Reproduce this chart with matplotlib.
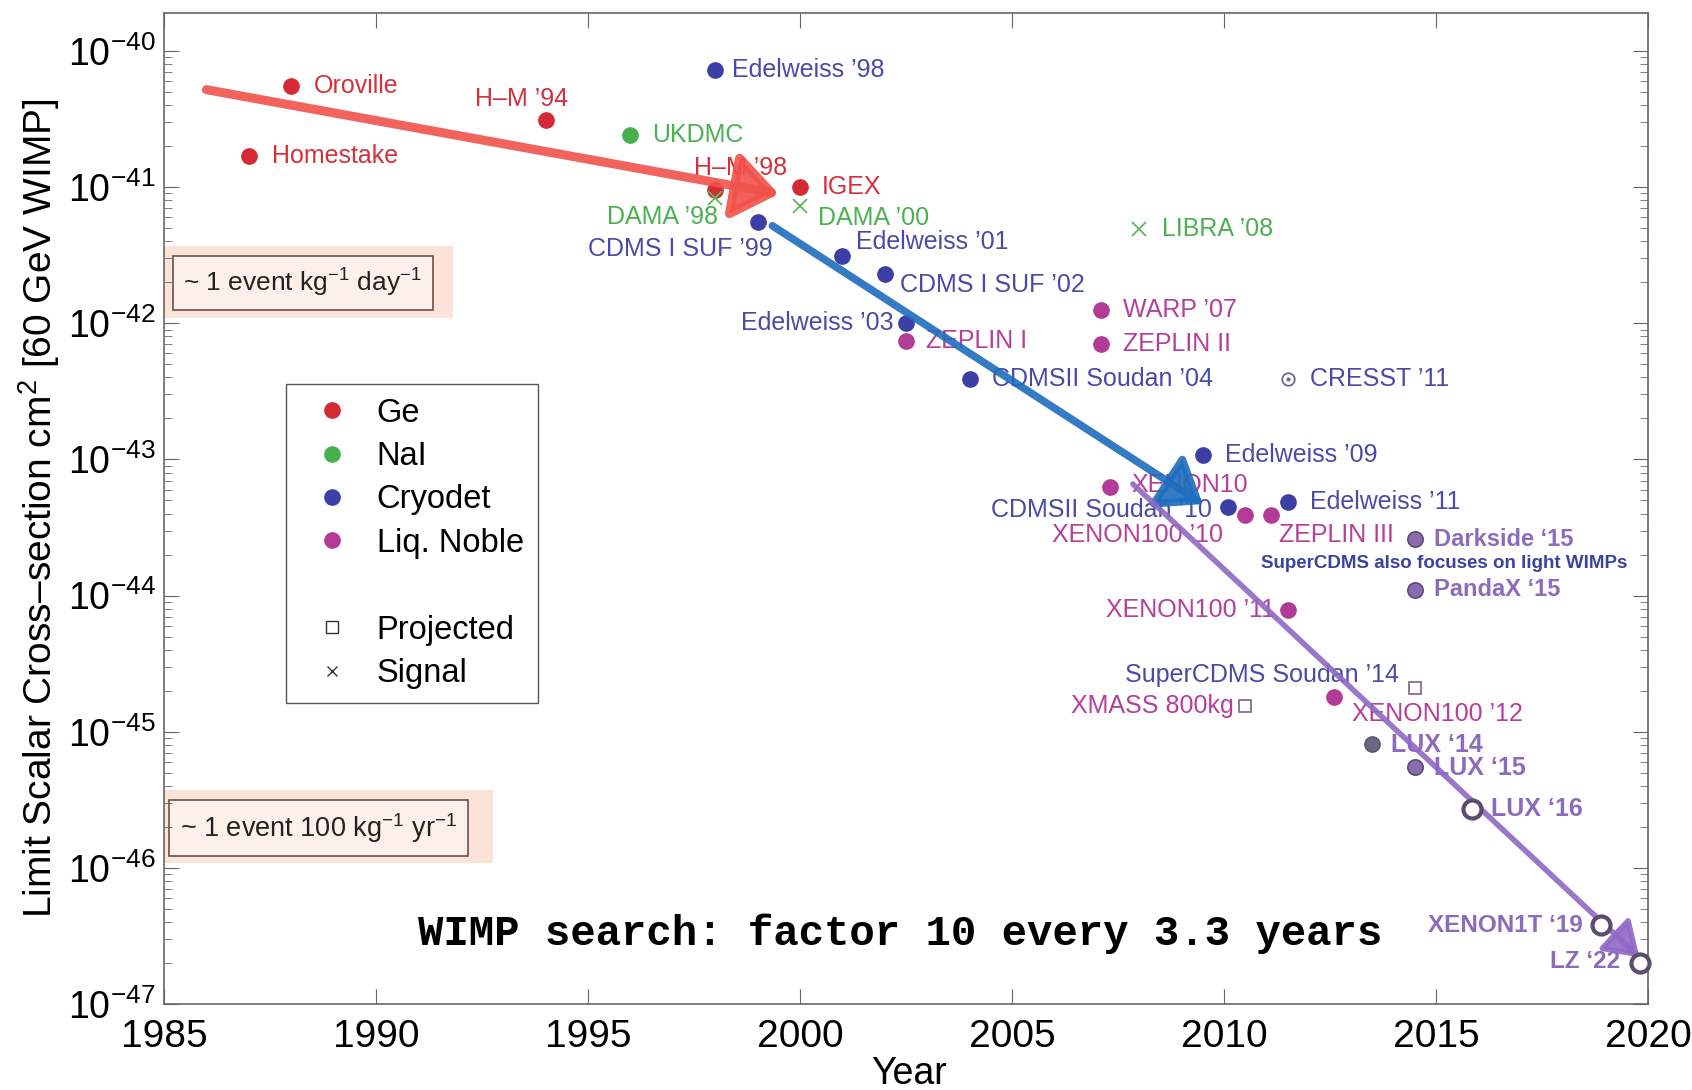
import matplotlib
matplotlib.use("Agg")
import matplotlib.pyplot as plt
from matplotlib.lines import Line2D
from matplotlib.patches import Rectangle

plt.rcParams['font.family'] = ['Liberation Sans', 'DejaVu Sans']
plt.rcParams['mathtext.fontset'] = 'custom'
plt.rcParams['mathtext.rm'] = 'Liberation Sans'
plt.rcParams['mathtext.it'] = 'Liberation Sans:italic'
plt.rcParams['mathtext.bf'] = 'Liberation Sans:bold'

# ---- data ----
ge_names = ['Oroville', 'Homestake', 'H–M ’94', 'H–M ’98', 'IGEX']
ge_years = [1988, 1987, 1994, 1998, 2000]
ge_vals = [5.5e-41, 1.7e-41, 3.1e-41, 9.6e-42, 1.0e-41]

nai_names = ['UKDMC']
nai_years = [1996]
nai_vals = [2.4e-41]

signal_names = ['DAMA ’98', 'DAMA ’00', 'LIBRA ’08']
signal_years = [1998, 2000, 2008]
signal_vals = [8.3e-42, 7.3e-42, 4.9e-42]

cryo_names = ['Edelweiss ’98', 'CDMS I SUF ’99', 'Edelweiss ’01', 'CDMS I SUF ’02',
              'Edelweiss ’03', 'CDMSII Soudan ’04', 'Edelweiss ’09',
              'CDMSII Soudan ’10', 'Edelweiss ’11']
cryo_years = [1998, 1999, 2001, 2002, 2002.5, 2004, 2009.5, 2010.1, 2011.5]
cryo_vals = [7.3e-41, 5.5e-42, 3.1e-42, 2.3e-42, 1.0e-42, 3.9e-43, 1.07e-43, 4.5e-44, 4.9e-44]

cresst_names = ['CRESST ’11']
cresst_years = [2011.5]
cresst_vals = [3.9e-43]

noble_names = ['ZEPLIN I', 'WARP ’07', 'ZEPLIN II', 'XENON10', 'XENON100 ’10',
               'ZEPLIN III', 'XENON100 ’11', 'XENON100 ’12']
noble_years = [2002.5, 2007.1, 2007.1, 2007.3, 2010.5, 2011.1, 2011.5, 2012.6]
noble_vals = [7.4e-43, 1.25e-42, 7.0e-43, 6.3e-44, 3.9e-44, 3.9e-44, 7.8e-45, 1.8e-45]

proj_names = ['SuperCDMS Soudan ’14', 'XMASS 800kg']
proj_years = [2014.5, 2010.5]
proj_vals = [2.1e-45, 1.55e-45]

new_names = ['Darkside ‘15', 'PandaX ‘15', 'LUX ‘14', 'LUX ‘15']
new_years = [2014.5, 2014.5, 2013.5, 2014.5]
new_vals = [2.6e-44, 1.1e-44, 8.1e-46, 5.5e-46]

open_names = ['LUX ‘16', 'XENON1T ‘19', 'LZ ‘22']
open_years = [2015.85, 2018.9, 2019.8]
open_vals = [2.7e-46, 3.8e-47, 2.0e-47]

# trend arrows (start / end)
trend_x0 = [1986.0, 1999.35, 2007.85]
trend_y0 = [5.2e-41, 5.2e-42, 6.6e-44]
trend_x1 = [1999.5, 2009.5, 2019.8]
trend_y1 = [8.9e-42, 4.7e-44, 2.2e-47]
trend_colors = ['#f0524a', '#1f6dbd', '#9068c6']

# label offsets in pixels (dx, dy, ha)
offsets = {
    'Oroville': (23, 0, 'left'), 'Homestake': (23, 0, 'left'),
    'H–M ’94': (-24, 21, 'center'), 'H–M ’98': (25, 22, 'center'),
    'IGEX': (22, 0, 'left'), 'UKDMC': (22, 0, 'left'),
    'DAMA ’98': (-53, -19, 'center'), 'DAMA ’00': (18, -12, 'left'),
    'LIBRA ’08': (23, 0, 'left'), 'Edelweiss ’98': (17, 0, 'left'),
    'CDMS I SUF ’99': (-77, -27, 'center'), 'Edelweiss ’01': (14, 14, 'left'),
    'CDMS I SUF ’02': (15, -11, 'left'), 'Edelweiss ’03': (-12, 0, 'right'),
    'ZEPLIN I': (20, 0, 'left'), 'CDMSII Soudan ’04': (22, 0, 'left'),
    'WARP ’07': (22, 0, 'left'), 'ZEPLIN II': (22, 0, 'left'),
    'CRESST ’11': (22, 0, 'left'), 'Edelweiss ’09': (22, 0, 'left'),
    'XENON10': (22, 2, 'left'), 'CDMSII Soudan ’10': (-16, -3, 'right'),
    'XENON100 ’10': (-22, -20, 'right'), 'ZEPLIN III': (8, -20, 'left'),
    'Edelweiss ’11': (22, 0, 'left'), 'XENON100 ’11': (-13, 0, 'right'),
    'XENON100 ’12': (18, -17, 'left'), 'SuperCDMS Soudan ’14': (-16, 13, 'right'),
    'XMASS 800kg': (-11, 0, 'right'),
    'Darkside ‘15': (19, 0, 'left'), 'PandaX ‘15': (19, 0, 'left'),
    'LUX ‘14': (19, -1, 'left'), 'LUX ‘15': (19, -1, 'left'),
    'LUX ‘16': (19, 0, 'left'), 'XENON1T ‘19': (-19, 0, 'right'),
    'LZ ‘22': (-19, 2, 'right'),
}

fig = plt.figure(figsize=(16.92, 10.9), dpi=100)
ax = fig.add_axes([0.0969, 0.0789, 0.8771, 0.9093])
ax.set_yscale('log')
ax.set_xlim(1985, 2020)
ax.set_ylim(1e-47, 10 ** -39.72)


def label(names, years, vals, color, size=18, weight='normal'):
    for n, x, y in zip(names, years, vals):
        dx, dy, ha = offsets[n]
        ax.annotate(n, (x, y), xytext=(dx, dy), textcoords='offset pixels',
                    ha=ha, va='center', color=color, fontsize=size,
                    fontweight=weight, zorder=3)


ge_c, nai_c, cryo_c, noble_c = '#d42a35', '#46b04c', '#3b3fa6', '#b23b98'
ms = 11
ax.plot(ge_years, ge_vals, 'o', color=ge_c, ms=ms, zorder=2)
ax.plot(nai_years, nai_vals, 'o', color=nai_c, ms=ms, zorder=2)
ax.plot(signal_years, signal_vals, 'x', color='#5cb85c', ms=10, mew=1.3, zorder=2)
ax.plot(cryo_years, cryo_vals, 'o', color=cryo_c, ms=ms, zorder=2)
ax.plot(cresst_years, cresst_vals, 'o', mfc='none', mec='#6a6a96', ms=9, mew=1.3, zorder=2)
ax.plot(cresst_years, cresst_vals, '.', color='#6a6a96', ms=4, zorder=2)
ax.plot(noble_years, noble_vals, 'o', color=noble_c, ms=ms, zorder=2)
ax.plot(proj_years, proj_vals, 's', mfc='none', mec='#7a6488', ms=9, mew=1.2, zorder=2)
ax.plot(new_years[:2] + new_years[3:], new_vals[:2] + new_vals[3:], 'o',
        mfc='#8a6cb0', mec='#5d4b75', ms=ms, mew=1.2, zorder=2)
ax.plot(new_years[2:3], new_vals[2:3], 'o', mfc='#6b6880', mec='#55526a', ms=ms, zorder=2)
ax.plot(open_years, open_vals, 'o', mfc='white', mec='#5a4d6e', ms=13, mew=3,
        zorder=5, clip_on=False)

label(ge_names, ge_years, ge_vals, '#d5303c')
label(nai_names, nai_years, nai_vals, '#4cb050')
label(signal_names, signal_years, signal_vals, '#4cb050')
label(cryo_names, cryo_years, cryo_vals, '#4a4aa8')
label(cresst_names, cresst_years, cresst_vals, '#4a4aa8')
label(noble_names, noble_years, noble_vals, '#b53f99')
label(proj_names[:1], proj_years[:1], proj_vals[:1], '#4a4aa8')
label(proj_names[1:], proj_years[1:], proj_vals[1:], '#b53f99')
label(new_names[:2], new_years[:2], new_vals[:2], '#8c6bbd', size=17, weight='bold')
label(new_names[2:], new_years[2:], new_vals[2:], '#8c6bbd', size=18, weight='bold')
label(open_names[:1], open_years[:1], open_vals[:1], '#8c6bbd', size=18, weight='bold')
label(open_names[1:], open_years[1:], open_vals[1:], '#8c6bbd', size=17.5, weight='bold')

# trend arrows
heads = [(0.6, 0.45, 45, 6.5), (0.6, 0.45, 42, 5.5), (0.6, 0.4, 34, 4)]
for x0, y0, x1, y1, c, (hl, hw, ms_, lw) in zip(trend_x0, trend_y0, trend_x1, trend_y1,
                                                trend_colors, heads):
    ax.annotate('', xy=(x1, y1), xytext=(x0, y0),
                arrowprops=dict(arrowstyle=f'-|>,head_length={hl},head_width={hw}',
                                color=c, lw=lw, mutation_scale=ms_,
                                shrinkA=0, shrinkB=0, alpha=0.9),
                zorder=4, annotation_clip=False)

ax.text(0.8625, 0.444, 'SuperCDMS also focuses on light WIMPs', transform=ax.transAxes,
        ha='center', va='center', fontsize=13.5, fontweight='bold', color='#3a44a0')

ax.text(0.496, 0.0706, 'WIMP search: factor 10 every 3.3 years', transform=ax.transAxes,
        ha='center', va='center', fontsize=30.5, fontweight='bold',
        family=['Liberation Mono', 'DejaVu Sans Mono'], color='black', zorder=6)

# rate boxes with pink glow
ax.add_patch(Rectangle((0.0, 0.692), 0.195, 0.073, transform=ax.transAxes,
                       fc='#fbe3da', ec='none', zorder=0))
ax.add_patch(Rectangle((0.0, 0.142), 0.222, 0.074, transform=ax.transAxes,
                       fc='#fbe3da', ec='none', zorder=0))
box = dict(boxstyle='square,pad=0.4', fc='#fdf0ea', ec='#6b5048', lw=1.2)
ax.text(0.0935, 0.7276, r'~ 1 event kg$^{-1}$ day$^{-1}$', transform=ax.transAxes,
        ha='center', va='center', fontsize=19, color='#222222', bbox=box, zorder=1)
ax.text(0.104, 0.1776, r'~ 1 event 100 kg$^{-1}$ yr$^{-1}$', transform=ax.transAxes,
        ha='center', va='center', fontsize=19.5, color='#222222', bbox=box, zorder=1)

# legend
handles = [
    Line2D([], [], ls='none', marker='o', color=ge_c, ms=ms),
    Line2D([], [], ls='none', marker='o', color=nai_c, ms=ms),
    Line2D([], [], ls='none', marker='o', color=cryo_c, ms=ms),
    Line2D([], [], ls='none', marker='o', color=noble_c, ms=ms),
    Line2D([], [], ls='none', marker=''),
    Line2D([], [], ls='none', marker='s', mfc='none', mec='#333333', ms=8),
    Line2D([], [], ls='none', marker='x', color='#333333', ms=7),
]
labels = ['Ge', 'NaI', 'Cryodet', 'Liq. Noble', ' ', 'Projected', 'Signal']
leg = ax.legend(handles, labels, loc='upper left', bbox_to_anchor=(0.0822, 0.6256),
                borderaxespad=0, fontsize=23.5, fancybox=False, framealpha=1,
                edgecolor='#555555', labelspacing=0.38, handletextpad=0.36,
                handlelength=2.0, borderpad=0.42)
leg.get_frame().set_linewidth(1.0)

# axes styling
ax.set_xticks(range(1985, 2021, 5))
ax.set_yticks([10.0 ** e for e in range(-47, -39)])
ax.set_yticklabels([f'$10^{{{e}}}$' for e in range(-47, -39)])
ax.tick_params(axis='x', which='major', direction='in', top=True, length=11,
               labelsize=28, pad=11, color='#666666')
ax.tick_params(axis='y', which='major', direction='in', right=True, length=11,
               labelsize=27, pad=6, color='#666666')
ax.tick_params(axis='y', which='minor', direction='in', right=True, length=6,
               color='#666666')
for s in ax.spines.values():
    s.set_color('#666666')
    s.set_linewidth(1.2)

ax.set_ylabel('Limit Scalar Cross–section cm$^2$ [60 GeV WIMP]', fontsize=28)
ax.yaxis.set_label_coords(-0.069, 0.5)
ax.set_xlabel('Year', fontsize=27)
ax.xaxis.set_label_coords(0.502, -0.052)

fig.savefig('out.png', dpi=100, facecolor='white')
